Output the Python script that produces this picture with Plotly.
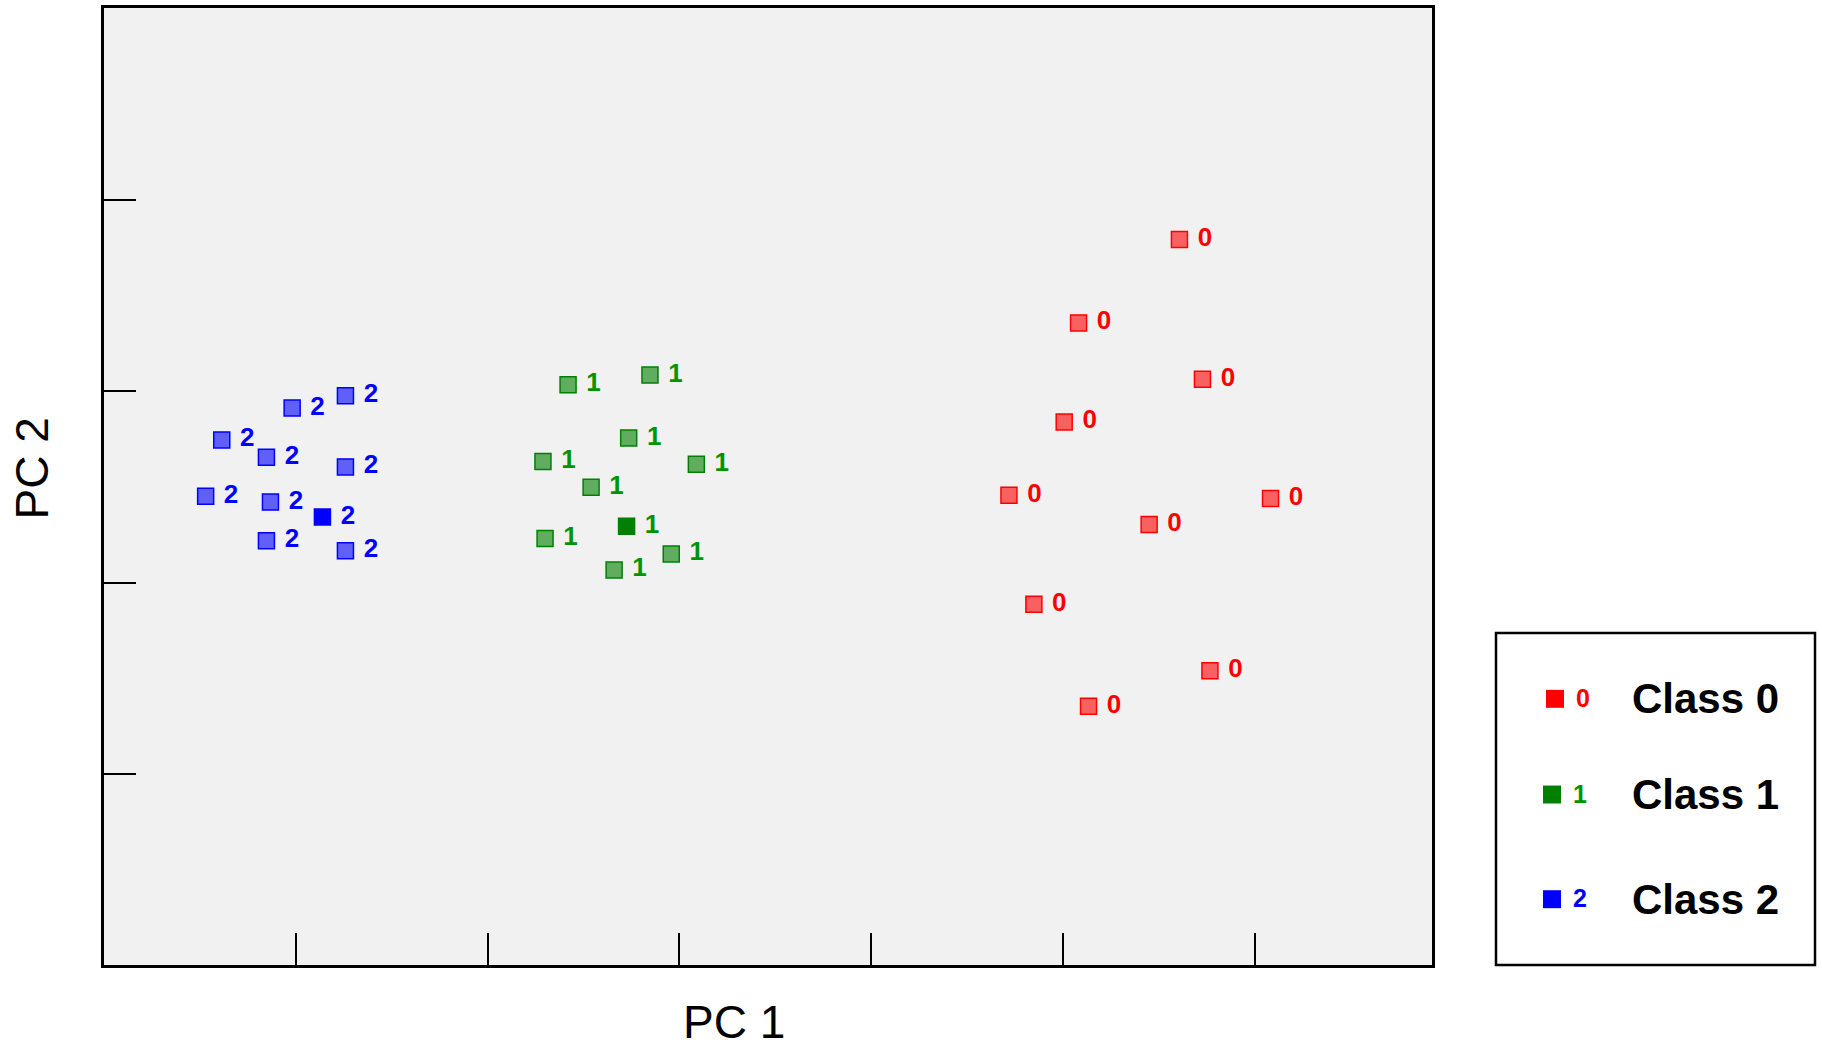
import plotly.graph_objects as go

# ---------------- data ----------------
class_names = ["Class 0", "Class 1", "Class 2"]
class_labels = ["0", "1", "2"]

pc1_class0 = [2.608, 2.082, 2.728, 2.007, 1.719, 2.450, 3.083, 1.849, 2.767, 2.134]
pc2_class0 = [1.794, 1.358, 1.063, 0.840, 0.457, 0.304, 0.440, -0.113, -0.461, -0.647]

pc1_class1 = [-0.580, -0.153, -0.264, -0.711, 0.089, -0.460, -0.275, -0.700, -0.042, -0.340]
pc2_class1 = [1.034, 1.085, 0.756, 0.633, 0.619, 0.499, 0.294, 0.231, 0.150, 0.066]

pc1_class2 = [-2.019, -1.741, -2.386, -2.153, -1.741, -2.470, -2.132, -1.861, -2.153, -1.741]
pc2_class2 = [0.913, 0.977, 0.746, 0.656, 0.605, 0.452, 0.421, 0.343, 0.219, 0.167]

# highlighted (solid) sample index per class (None = none)
highlight = [None, 6, 7]

x_ticks = [-2, -1, 0, 1, 2, 3]
y_ticks = [-1, 0, 1, 2]

# ---------------- style ----------------
W, H = 1822, 1051
L, R, T, B = 104, 1432, 5, 965
FONT = "Arial, Liberation Sans, sans-serif"
edge_cols = ["#ff0000", "#008000", "#0000ff"]
fill_cols = ["rgba(255,0,0,0.6)", "rgba(0,128,0,0.6)", "rgba(0,0,255,0.6)"]
text_cols = ["#ff0000", "#009400", "#0000ff"]

def px_x(px):
    return (px - L) / (R - L)

def px_y(py):
    return (B - py) / (B - T)

fig = go.Figure()

xs = [pc1_class0, pc1_class1, pc1_class2]
ys = [pc2_class0, pc2_class1, pc2_class2]
for k in range(3):
    cols = [fill_cols[k]] * len(xs[k])
    if highlight[k] is not None:
        cols[highlight[k]] = edge_cols[k]
    fig.add_trace(go.Scatter(
        x=xs[k], y=ys[k], mode="markers+text",
        name=class_names[k],
        text=["\u00a0" + class_labels[k]] * len(xs[k]),
        textposition="middle right",
        textfont=dict(family=FONT, size=26, color=text_cols[k], weight="bold"),
        marker=dict(symbol="square", size=16, color=cols,
                    line=dict(color=edge_cols[k], width=1.5)),
        showlegend=False, cliponaxis=False,
    ))

axis_common = dict(showgrid=False, zeroline=False, showticklabels=False,
                   ticks="inside", ticklen=32, tickwidth=1.5, tickcolor="black",
                   showline=True, linecolor="black", linewidth=2.5, mirror=True)

fig.update_layout(
    width=W, height=H,
    margin=dict(l=L, r=W - R, t=T, b=H - B),
    paper_bgcolor="white", plot_bgcolor="#f1f1f1",
    xaxis=dict(range=[-3.0, 3.925], tickvals=x_ticks, **axis_common),
    yaxis=dict(range=[-2.0, 3.005], tickvals=y_ticks, **axis_common),
    font=dict(family=FONT),
)

shapes = []
annotations = []

# axis titles
annotations.append(dict(x=px_x(734), y=px_y(1050), xref="paper", yref="paper",
                        text="PC 1", showarrow=False, xanchor="center", yanchor="bottom",
                        font=dict(family=FONT, size=46, color="black")))
annotations.append(dict(x=px_x(32), y=px_y(467), xref="paper", yref="paper",
                        text="PC 2", showarrow=False, xanchor="center", yanchor="middle",
                        textangle=-90, font=dict(family=FONT, size=46, color="black")))

# legend box
shapes.append(dict(type="rect", xref="paper", yref="paper",
                   x0=px_x(1496), x1=px_x(1815), y0=px_y(965), y1=px_y(632),
                   line=dict(color="black", width=2.5), fillcolor="white"))
leg_cy = [698, 794, 899]
leg_mx = [1555, 1552, 1552]
for k in range(3):
    cx, cy = leg_mx[k], leg_cy[k]
    shapes.append(dict(type="rect", xref="paper", yref="paper",
                       x0=px_x(cx - 9), x1=px_x(cx + 9), y0=px_y(cy + 9), y1=px_y(cy - 9),
                       line=dict(width=0), fillcolor=edge_cols[k]))
    annotations.append(dict(x=px_x(cx + 19), y=px_y(cy - 1), xref="paper", yref="paper",
                            text="<b>" + class_labels[k] + "</b>", showarrow=False,
                            xanchor="left", yanchor="middle",
                            font=dict(family=FONT, size=25, color=text_cols[k])))
    annotations.append(dict(x=px_x(1630), y=px_y(cy), xref="paper", yref="paper",
                            text="<b>" + class_names[k] + "</b>", showarrow=False,
                            xanchor="left", yanchor="middle",
                            font=dict(family=FONT, size=42, color="black")))

fig.update_layout(shapes=shapes, annotations=annotations)
fig.write_html("out.html")
